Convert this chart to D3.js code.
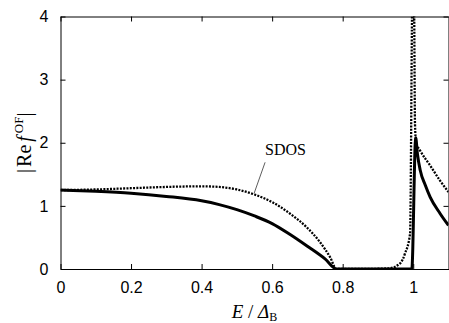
<!DOCTYPE html>
<html>
<head>
<meta charset="utf-8">
<script src="https://cdn.jsdelivr.net/npm/d3@7"></script>
<style>
  body { margin: 0; background: #fff; }
</style>
</head>
<body>
<div id="chart"></div>
<script>
// tick values
const xTicks = [0, 0.2, 0.4, 0.6, 0.8, 1];
const yTicks = [0, 1, 2, 3, 4];

// |Re f^OF| (solid)
const refE   = [0, 0.1, 0.2, 0.3, 0.4, 0.45, 0.5, 0.55, 0.6, 0.65, 0.7, 0.75, 0.783, 0.85, 0.92, 0.996, 1.007, 1.012, 1.02, 1.034, 1.048, 1.076, 1.1];
const refVal = [1.25, 1.23, 1.2, 1.15, 1.08, 1.02, 0.94, 0.84, 0.72, 0.55, 0.36, 0.16, 0, 0, 0, 0, 2.08, 1.82, 1.56, 1.33, 1.14, 0.88, 0.69];

// SDOS (dotted)
const sdosE   = [0, 0.1, 0.2, 0.3, 0.4, 0.45, 0.5, 0.55, 0.6, 0.65, 0.7, 0.735, 0.765, 0.782, 0.85, 0.93, 0.963, 0.977, 0.991, 0.998, 1.002, 1.005, 1.008, 1.019, 1.048, 1.076, 1.1];
const sdosVal = [1.25, 1.26, 1.28, 1.30, 1.31, 1.30, 1.26, 1.18, 1.06, 0.88, 0.65, 0.43, 0.18, 0, 0, 0.01, 0.09, 0.25, 0.56, 4.4, 4.4, 2.3, 2.0, 1.88, 1.64, 1.40, 1.22];

const margin = { top: 16.5, right: 0.5, bottom: 54, left: 60.5 };
const width = 449 - margin.left - margin.right;
const height = 323 - margin.top - margin.bottom;

const svg = d3.select("#chart")
    .append("svg")
    .attr("width", 449)
    .attr("height", 323)
    .append("g")
    .attr("transform", `translate(${margin.left},${margin.top})`);

const x = d3.scaleLinear().domain([0, 1.1]).range([0, width]);
const y = d3.scaleLinear().domain([0, 4]).range([height, 0]);

const tickFont = "'Liberation Sans', Arial, sans-serif";
const serif = "'Liberation Serif', 'Times New Roman', serif";

// axes (ticks point inward, mirrored on top/right)
function styleAxis(g) {
    g.attr("font-size", 16).attr("font-family", tickFont);
    g.select(".domain").attr("stroke", "#000");
    g.selectAll(".tick line").attr("stroke", "#000");
    g.selectAll(".tick text").attr("fill", "#000");
}

svg.append("g")
    .attr("transform", `translate(0,${height})`)
    .call(d3.axisBottom(x).tickValues(xTicks).tickSize(-5).tickSizeOuter(0)
        .tickPadding(13).tickFormat(d3.format("~g")))
    .call(styleAxis);

svg.append("g")
    .call(d3.axisTop(x).tickValues(xTicks).tickSize(-5).tickSizeOuter(0).tickFormat(""))
    .call(styleAxis);

svg.append("g")
    .call(d3.axisLeft(y).tickValues(yTicks).tickSize(-5).tickSizeOuter(0)
        .tickPadding(12).tickFormat(d3.format("~g")))
    .call(styleAxis);

svg.append("g")
    .attr("transform", `translate(${width},0)`)
    .call(d3.axisRight(y).tickValues(yTicks).tickSize(-5).tickSizeOuter(0).tickFormat(""))
    .call(styleAxis);

// clip for curves
svg.append("clipPath").attr("id", "plot-clip")
    .append("rect").attr("width", width).attr("height", height);

const line = d3.line()
    .x(d => x(d[0]))
    .y(d => y(d[1]))
    .curve(d3.curveMonotoneX);

const plot = svg.append("g").attr("clip-path", "url(#plot-clip)");

plot.append("path")
    .datum(d3.zip(sdosE, sdosVal))
    .attr("fill", "none")
    .attr("stroke", "#000")
    .attr("stroke-width", 2.3)
    .attr("stroke-dasharray", "2,1.3")
    .attr("d", line);

plot.append("path")
    .datum(d3.zip(refE, refVal))
    .attr("fill", "none")
    .attr("stroke", "#000")
    .attr("stroke-width", 3)
    .attr("stroke-linejoin", "round")
    .attr("d", line);

// SDOS label with leader line
svg.append("line")
    .attr("x1", x(0.58)).attr("y1", y(1.69))
    .attr("x2", x(0.549)).attr("y2", y(1.2))
    .attr("stroke", "#333")
    .attr("stroke-width", 0.8);

svg.append("text")
    .attr("x", x(0.58))
    .attr("y", y(1.8))
    .attr("font-family", serif)
    .attr("font-size", 16)
    .text("SDOS");

// x label: E / Δ_B
const xLab = svg.append("text")
    .attr("x", width / 2)
    .attr("y", height + 49)
    .attr("text-anchor", "middle")
    .attr("font-family", serif)
    .attr("font-size", 19);
xLab.append("tspan").attr("font-style", "italic").text("E");
xLab.append("tspan").text(" / ");
xLab.append("tspan").attr("font-style", "italic").text("Δ");
xLab.append("tspan").attr("font-size", 12).attr("dy", 3).text("B");

// y label: |Re f^OF|
const yLab = svg.append("text")
    .attr("transform", `translate(-30,${height / 2}) rotate(-90)`)
    .attr("text-anchor", "middle")
    .attr("font-family", serif)
    .attr("font-size", 20);
yLab.append("tspan").text("|");
yLab.append("tspan").attr("dx", 2).text("Re");
yLab.append("tspan").attr("dx", 3).attr("font-style", "italic").text("f");
yLab.append("tspan").attr("dx", 3).attr("dy", -8).attr("font-size", 13).text("OF");
yLab.append("tspan").attr("dy", 8).text("|");
</script>
</body>
</html>
